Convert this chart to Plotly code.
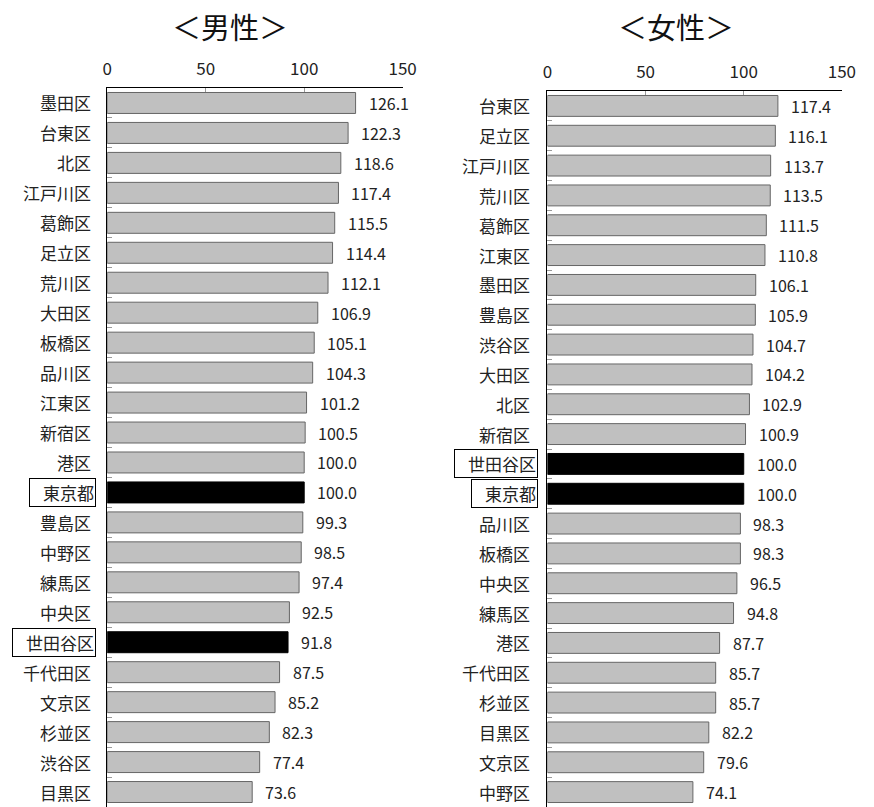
import plotly.graph_objects as go

# 男性
male_areas = ["墨田区", "台東区", "北区", "江戸川区", "葛飾区", "足立区", "荒川区", "大田区",
              "板橋区", "品川区", "江東区", "新宿区", "港区", "東京都", "豊島区", "中野区",
              "練馬区", "中央区", "世田谷区", "千代田区", "文京区", "杉並区", "渋谷区", "目黒区"]
male_values = [126.1, 122.3, 118.6, 117.4, 115.5, 114.4, 112.1, 106.9,
               105.1, 104.3, 101.2, 100.5, 100.0, 100.0, 99.3, 98.5,
               97.4, 92.5, 91.8, 87.5, 85.2, 82.3, 77.4, 73.6]

# 女性
female_areas = ["台東区", "足立区", "江戸川区", "荒川区", "葛飾区", "江東区", "墨田区", "豊島区",
                "渋谷区", "大田区", "北区", "新宿区", "世田谷区", "東京都", "品川区", "板橋区",
                "中央区", "練馬区", "港区", "千代田区", "杉並区", "目黒区", "文京区", "中野区"]
female_values = [117.4, 116.1, 113.7, 113.5, 111.5, 110.8, 106.1, 105.9,
                 104.7, 104.2, 102.9, 100.9, 100.0, 100.0, 98.3, 98.3,
                 96.5, 94.8, 87.7, 85.7, 85.7, 82.2, 79.6, 74.1]

panel_titles = ["＜男性＞", "＜女性＞"]
x_ticks = [0, 50, 100, 150]
highlight = {"東京都", "世田谷区"}

FONT = "Noto Sans CJK JP"
W, H = 874, 807

fig = go.Figure()
annotations = []

panels = [
    dict(areas=male_areas, values=male_values, xa="x", ya="y",
         xdom=[104.5 / W, 406.5 / W], ydom=[0, 1 - 88 / H], title_x=230 / W),
    dict(areas=female_areas, values=female_values, xa="x2", ya="y2",
         xdom=[554.5 / W, 855.5 / W], ydom=[0, 1 - 91 / H], title_x=686 / W),
]

layout_axes = {}
for i, p in enumerate(panels):
    colors = ["#000000" if a in highlight else "#c0c0c0" for a in p["areas"]]
    lines = ["#000000" if a in highlight else "#666666" for a in p["areas"]]
    fig.add_trace(go.Bar(
        x=p["values"], y=p["areas"], orientation="h",
        marker=dict(color=colors, line=dict(color=lines, width=1)),
        width=0.7, xaxis=p["xa"], yaxis=p["ya"], showlegend=False,
        hoverinfo="x+y",
    ))
    sfx = "" if i == 0 else "2"
    layout_axes["xaxis" + sfx] = dict(
        domain=p["xdom"], range=[0, 150], side="top", anchor=p["ya"],
        tickvals=x_ticks, ticks="inside", ticklen=4, tickcolor="#999999",
        showline=True, linecolor="#000000", linewidth=1, showgrid=False,
        zeroline=False, tickfont=dict(family=FONT, size=17, color="#222222"),
        ticklabelstandoff=5, fixedrange=True,
    )
    layout_axes["yaxis" + sfx] = dict(
        domain=p["ydom"], type="category", categoryorder="array",
        categoryarray=p["areas"], autorange="reversed", anchor=p["xa"],
        showticklabels=False, ticks="inside", tickson="boundaries", ticklen=5,
        tickcolor="#999999", showline=True, linecolor="#000000", linewidth=1,
        showgrid=False, zeroline=False, fixedrange=True,
    )

    # value labels to the right of each bar
    for a, v in zip(p["areas"], p["values"]):
        annotations.append(dict(
            x=v, y=a, xref=p["xa"], yref=p["ya"], text=f"{v:.1f}",
            xanchor="left", yanchor="middle", xshift=11, showarrow=False,
            font=dict(family=FONT, size=16, color="#222222"),
        ))
    # category labels, boxed for the highlighted rows
    for a in p["areas"]:
        boxed = a in highlight
        annotations.append(dict(
            x=0, y=a, xref=p["xa"], yref=p["ya"], text=a,
            xanchor="right", yanchor="middle",
            xshift=(-11 if i == 0 else -9) if boxed else (-16 if i == 0 else -17),
            showarrow=False, width=(None if not boxed else len(a) * 17 + 12),
            align="right",
            font=dict(family=FONT, size=17, color="#222222"),
            bordercolor="#000000" if boxed else None,
            borderwidth=1 if boxed else 0, borderpad=1 if boxed else 0,
        ))
    annotations.append(dict(
        x=p["title_x"], y=1 - 26 / H, xref="paper", yref="paper",
        text=panel_titles[i], showarrow=False, xanchor="center", yanchor="middle",
        font=dict(family=FONT, size=29, color="#111111"),
    ))

fig.update_layout(
    width=W, height=H, margin=dict(l=0, r=0, t=0, b=0),
    paper_bgcolor="#ffffff", plot_bgcolor="#ffffff",
    bargap=0.3, annotations=annotations, **layout_axes,
)

fig.write_html("out.html")
